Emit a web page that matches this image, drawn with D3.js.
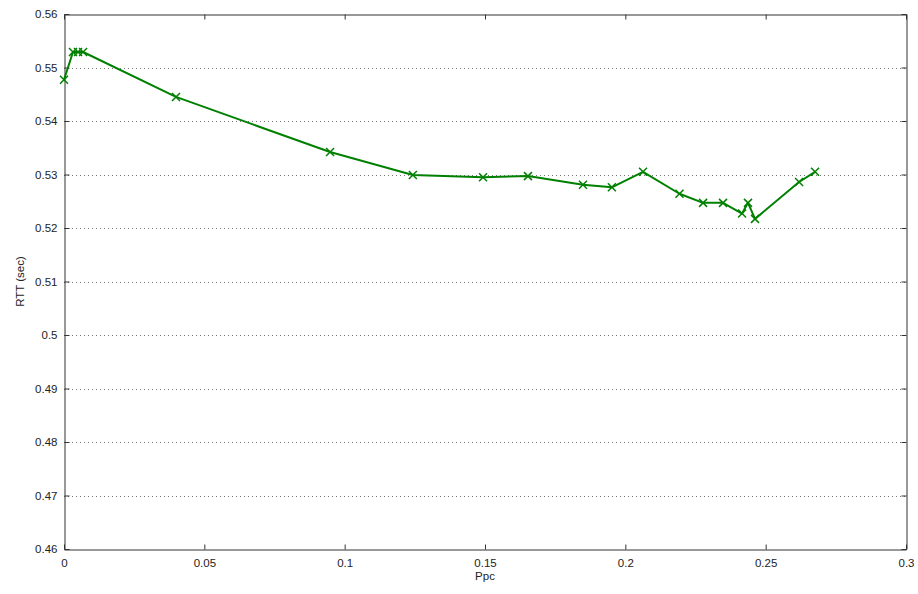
<!DOCTYPE html>
<html>
<head>
<meta charset="utf-8">
<script src="https://cdn.jsdelivr.net/npm/d3@7"></script>
<style>
  html, body { margin: 0; padding: 0; background: #fff; }
  svg { display: block; font-family: Arial, "Liberation Sans", sans-serif; }
</style>
</head>
<body>
<svg id="chart" width="918" height="594"></svg>
<script>
// Round-trip time against Ppc
const ppc = [0, 0.0032, 0.0050, 0.0068, 0.0399, 0.0948, 0.1243, 0.1493, 0.1653, 0.1849, 0.1952,
             0.2063, 0.2193, 0.2277, 0.2348, 0.2416, 0.2437, 0.2462, 0.2619, 0.2676];
const rtt = [0.5477, 0.5529, 0.5529, 0.5529, 0.5445, 0.5342, 0.5299, 0.5295, 0.5297, 0.5281, 0.5276,
             0.5305, 0.5264, 0.5247, 0.5247, 0.5227, 0.5247, 0.5217, 0.5286, 0.5305];
const xTicks = [0, 0.05, 0.1, 0.15, 0.2, 0.25, 0.3];
const yTicks = [0.46, 0.47, 0.48, 0.49, 0.5, 0.51, 0.52, 0.53, 0.54, 0.55, 0.56];

const margin = { left: 64, top: 14, right: 12, bottom: 45 };
const W = 918, H = 594;
const svg = d3.select("#chart");

const x = d3.scaleLinear().domain([0, 0.3]).range([margin.left, W - margin.right]);
const y = d3.scaleLinear().domain([0.46, 0.56]).range([H - margin.bottom, margin.top]);

const fmt = d => String(+d.toFixed(3));
const textColor = "#222";
const fontSize = 11.5;

// dotted horizontal grid
svg.append("g").selectAll("line")
  .data(yTicks.slice(1, -1))
  .join("line")
  .attr("x1", x(0)).attr("x2", x(0.3))
  .attr("y1", d => Math.round(y(d)) + 0.5).attr("y2", d => Math.round(y(d)) + 0.5)
  .attr("stroke", "#777").attr("stroke-width", 1).attr("stroke-dasharray", "1,3");

// axes with inward ticks
const tickLen = 5;
const axisBottomG = svg.append("g").attr("transform", `translate(0,${Math.round(y(0.46)) + 0.5})`)
  .call(d3.axisBottom(x).tickValues(xTicks).tickFormat(fmt).tickSizeInner(-tickLen).tickSizeOuter(0).tickPadding(9));
const axisTopG = svg.append("g").attr("transform", `translate(0,${Math.round(y(0.56)) + 0.5})`)
  .call(d3.axisTop(x).tickValues(xTicks).tickFormat("").tickSizeInner(-tickLen).tickSizeOuter(0));
const axisLeftG = svg.append("g").attr("transform", `translate(${Math.round(x(0)) + 0.5},0)`)
  .call(d3.axisLeft(y).tickValues(yTicks).tickFormat(fmt).tickSizeInner(-tickLen).tickSizeOuter(0).tickPadding(7));
const axisRightG = svg.append("g").attr("transform", `translate(${Math.round(x(0.3)) + 0.5},0)`)
  .call(d3.axisRight(y).tickValues(yTicks).tickFormat("").tickSizeInner(-tickLen).tickSizeOuter(0));

[axisBottomG, axisTopG, axisLeftG, axisRightG].forEach(g => {
  g.select(".domain").attr("stroke", "#333").attr("stroke-width", 1);
  g.selectAll(".tick line").attr("stroke", "#333");
  g.selectAll("text").attr("fill", textColor).attr("font-size", fontSize)
    .attr("font-family", "Arial, 'Liberation Sans', sans-serif");
});

// axis titles
svg.append("text")
  .attr("x", x(0.15)).attr("y", 580)
  .attr("text-anchor", "middle").attr("font-size", fontSize).attr("fill", textColor)
  .text("Ppc");
svg.append("text")
  .attr("transform", `translate(24,${y(0.51)}) rotate(-90)`)
  .attr("text-anchor", "middle").attr("font-size", fontSize).attr("fill", textColor)
  .text("RTT (sec)");

// series
const pts = ppc.map((p, i) => [p, rtt[i]]);
const green = "#008000";
svg.append("path")
  .datum(pts)
  .attr("fill", "none").attr("stroke", green).attr("stroke-width", 2)
  .attr("stroke-linejoin", "round")
  .attr("d", d3.line().x(d => x(d[0])).y(d => y(d[1])));

const m = 4;
svg.append("g").selectAll("path")
  .data(pts)
  .join("path")
  .attr("fill", "none").attr("stroke", green).attr("stroke-width", 1.5)
  .attr("d", d => {
    const cx = x(d[0]), cy = y(d[1]);
    return `M${cx - m},${cy - m}L${cx + m},${cy + m}M${cx - m},${cy + m}L${cx + m},${cy - m}`;
  });
</script>
</body>
</html>
